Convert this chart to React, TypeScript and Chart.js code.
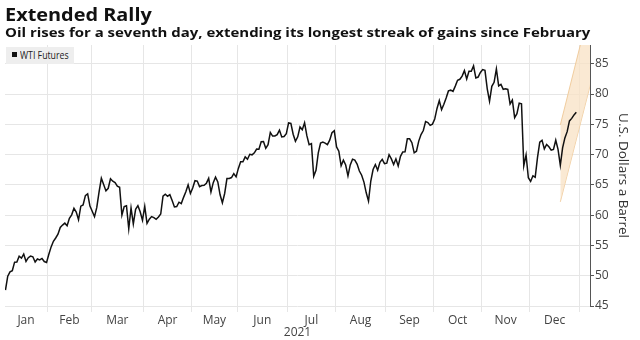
import React, { useEffect, useLayoutEffect, useRef } from 'react';
import { Chart, registerables } from 'chart.js';

Chart.register(...registerables);

// ---------- text ----------
const TITLE = 'Extended Rally';
const SUBTITLE = 'Oil rises for a seventh day, extending its longest streak of gains since February';
const SERIES_NAME = 'WTI Futures';
const Y_TITLE = 'U.S. Dollars a Barrel';
const YEAR_LABEL = '2021';

// ---------- axis data ----------
const monthLabels = ['Jan', 'Feb', 'Mar', 'Apr', 'May', 'Jun', 'Jul', 'Aug', 'Sep', 'Oct', 'Nov', 'Dec'];
const monthTradingDays = [19, 19, 23, 21, 20, 22, 21, 22, 21, 21, 21, 22];
const yTicks = [45, 50, 55, 60, 65, 70, 75, 80, 85];
const yMin = 45;
const yMax = 88.1;

// ---------- WTI daily closes, per month (trading days) ----------
const jan = [47.62, 49.93, 50.63, 50.83, 52.24, 52.25, 53.21, 52.91, 53.57, 52.36, 52.98, 53.24, 53.13, 52.27, 52.77, 52.61, 52.85, 52.34, 52.2];
const feb = [53.55, 54.76, 55.69, 56.23, 56.85, 57.97, 58.36, 58.68, 58.24, 59.47, 60.05, 61.14, 60.52, 59.24, 61.49, 61.67, 63.22, 63.53, 61.5];
const mar = [60.64, 59.75, 61.28, 63.83, 66.09, 65.05, 64.01, 64.44, 66.02, 65.61, 65.39, 64.8, 64.6, 60.0, 61.42, 61.55, 57.76, 61.18, 58.56, 60.97, 61.56, 60.55, 59.16];
const apr = [61.45, 58.65, 59.33, 59.77, 59.6, 59.32, 59.7, 60.18, 63.15, 63.46, 63.13, 63.38, 62.44, 61.35, 61.43, 62.14, 61.91, 62.94, 63.86, 65.01, 63.58];
const may = [64.49, 65.69, 65.63, 64.71, 64.9, 64.92, 65.28, 66.08, 63.82, 65.37, 66.27, 65.49, 63.36, 62.05, 63.58, 66.05, 66.07, 66.21, 66.85, 66.32];
const jun = [67.72, 68.83, 68.81, 69.62, 69.23, 70.05, 69.96, 70.29, 70.91, 70.88, 72.12, 72.15, 71.04, 71.64, 73.66, 73.06, 73.08, 73.3, 74.05, 72.91, 72.98, 73.47];
const jul = [75.23, 75.16, 73.37, 72.2, 72.94, 74.56, 74.1, 75.25, 73.13, 71.65, 71.81, 66.42, 67.42, 70.3, 71.91, 72.07, 71.91, 71.65, 72.39, 73.62, 73.95];
const aug = [71.26, 70.56, 68.15, 69.09, 68.28, 66.48, 68.29, 69.25, 69.09, 68.44, 67.29, 66.59, 65.46, 63.69, 62.32, 65.64, 67.54, 68.36, 67.42, 68.74, 69.21, 68.5];
const sep = [68.59, 69.99, 69.29, 68.35, 69.3, 68.14, 69.72, 70.45, 70.46, 72.61, 72.61, 71.97, 70.29, 70.56, 72.23, 73.3, 73.98, 75.45, 75.29, 74.83, 75.03];
const oct = [75.88, 77.62, 78.93, 77.43, 78.3, 79.35, 80.52, 80.64, 80.44, 81.31, 82.28, 82.44, 82.96, 83.87, 82.5, 83.76, 83.76, 84.65, 82.66, 82.81, 83.57];
const nov = [84.05, 83.91, 80.86, 78.81, 81.27, 81.93, 84.15, 81.34, 81.59, 80.79, 80.88, 80.76, 78.36, 79.01, 76.1, 76.75, 78.5, 78.39, 68.15, 69.95, 66.18];
const dec = [65.57, 66.5, 66.26, 69.49, 72.05, 72.36, 70.94, 71.67, 71.29, 70.73, 70.87, 72.38, 70.86, 68.23, 71.12, 72.76, 73.79, 75.57, 75.98, 76.56, 76.99];

// ---------- highlighted trend channel (trading-day index, $) ----------
const bandIndex = [243, 257];
const bandUpper = [74.9, 96.0];
const bandLower = [62.2, 82.8];

const GRID = '#e6e6e6';
const FONT = "'Open Sans', 'Noto Sans', sans-serif";

function FitText(props: { text: string; left: number; top: number; width: number; style: React.CSSProperties }) {
  const ref = useRef<HTMLSpanElement>(null);
  useLayoutEffect(() => {
    const apply = () => {
      const el = ref.current;
      if (!el) return;
      const w = el.offsetWidth;
      if (w > 0) el.style.transform = `scaleX(${props.width / w})`;
    };
    apply();
    const f = (document as any).fonts;
    if (f && f.ready) f.ready.then(apply);
  }, [props.text, props.width]);
  return (
    <span
      ref={ref}
      style={{
        position: 'absolute',
        left: props.left,
        top: props.top,
        whiteSpace: 'nowrap',
        display: 'inline-block',
        transformOrigin: '0 0',
        lineHeight: 1,
        fontFamily: FONT,
        ...props.style,
      }}
    >
      {props.text}
    </span>
  );
}

export default function App() {
  const canvasRef = useRef<HTMLCanvasElement>(null);

  useEffect(() => {
    const canvas = canvasRef.current;
    if (!canvas) return;

    const prices = [jan, feb, mar, apr, may, jun, jul, aug, sep, oct, nov, dec].flat();
    const lineData = prices.map((v, i) => ({ x: i, y: v }));

    // month boundaries (between trading days) and label centres
    const bounds: number[] = [-0.5];
    monthTradingDays.forEach((n) => bounds.push(bounds[bounds.length - 1] + n));
    const mids = monthLabels.map((_, k) => (bounds[k] + bounds[k + 1]) / 2);

    Chart.defaults.font.family = FONT;

    const chart = new Chart(canvas, {
      type: 'line',
      data: {
        datasets: [
          {
            label: SERIES_NAME,
            data: lineData,
            borderColor: '#111111',
            borderWidth: 1.5,
            pointRadius: 0,
            tension: 0,
            fill: false,
            order: 1,
          },
          {
            label: 'lower',
            data: bandIndex.map((x, i) => ({ x, y: bandLower[i] })),
            borderColor: 'rgba(238,200,150,0.9)',
            borderWidth: 1,
            pointRadius: 0,
            fill: false,
            order: 3,
          },
          {
            label: 'upper',
            data: bandIndex.map((x, i) => ({ x, y: bandUpper[i] })),
            borderColor: 'rgba(238,200,150,0.9)',
            borderWidth: 1,
            pointRadius: 0,
            fill: '-1',
            backgroundColor: 'rgba(248,226,196,0.75)',
            order: 2,
          },
        ],
      },
      options: {
        animation: false,
        responsive: false,
        devicePixelRatio: 1,
        events: [],
        layout: { padding: { left: 5, top: 45, right: 0, bottom: 0 } },
        plugins: {
          legend: { display: false },
          tooltip: { enabled: false },
          title: { display: false },
        },
        scales: {
          x: {
            type: 'linear',
            position: 'bottom',
            min: -0.2,
            max: 256,
            weight: 0,
            afterBuildTicks: (s: any) => {
              s.ticks = bounds.slice(1).map((v) => ({ value: v }));
            },
            ticks: { display: false },
            grid: { color: GRID, tickColor: GRID, tickLength: 6, drawTicks: true, lineWidth: 1 },
            border: { display: false },
            afterFit: (s: any) => {
              s.height = 6;
            },
          },
          x2: {
            type: 'linear',
            position: 'bottom',
            min: -0.2,
            max: 256,
            weight: 1,
            afterBuildTicks: (s: any) => {
              s.ticks = mids.map((v) => ({ value: v }));
            },
            ticks: {
              autoSkip: false,
              maxRotation: 0,
              padding: 1,
              color: '#444444',
              font: { size: 12, family: FONT },
              callback: (_v: any, idx: number) => monthLabels[idx],
            },
            grid: { display: false, drawTicks: false },
            border: { display: false },
            title: {
              display: true,
              text: YEAR_LABEL,
              color: '#444444',
              font: { size: 12, family: FONT },
              padding: { top: 0, bottom: 0 },
            },
            afterFit: (s: any) => {
              s.height = 28;
            },
          },
          y: {
            type: 'linear',
            position: 'right',
            min: yMin,
            max: yMax,
            afterBuildTicks: (s: any) => {
              s.ticks = yTicks.map((v) => ({ value: v }));
            },
            ticks: {
              color: '#444444',
              padding: 1,
              font: { size: 12, family: FONT },
              callback: (v: any) => String(v),
            },
            grid: { color: GRID, tickColor: '#555555', tickLength: 4, lineWidth: 1 },
            border: { display: true, color: '#555555', width: 1 },
            title: {
              display: true,
              text: Y_TITLE,
              color: '#333333',
              font: { size: 13.5, family: FONT },
              padding: { top: 9, bottom: 0 },
            },
            afterFit: (s: any) => {
              s.width = 50;
            },
          },
        },
      },
    } as any);

    return () => chart.destroy();
  }, []);

  return (
    <div style={{ position: 'absolute', left: 0, top: 0, width: 640, height: 340, background: '#ffffff', overflow: 'hidden' }}>
      <canvas ref={canvasRef} width={640} height={340} style={{ position: 'absolute', left: 0, top: 0, width: 640, height: 340 }} />
      <FitText text={TITLE} left={5} top={5} width={147} style={{ fontSize: 18, fontWeight: 700, color: '#111111' }} />
      <FitText text={SUBTITLE} left={5} top={27} width={585} style={{ fontSize: 12, fontWeight: 700, color: '#111111' }} />
      <div style={{ position: 'absolute', left: 6, top: 47, width: 68, height: 17, background: '#eeeeee' }} />
      <div style={{ position: 'absolute', left: 12, top: 52, width: 5, height: 5, background: '#111111' }} />
      <FitText text={SERIES_NAME} left={20} top={50} width={49} style={{ fontSize: 10, color: '#222222' }} />
    </div>
  );
}
